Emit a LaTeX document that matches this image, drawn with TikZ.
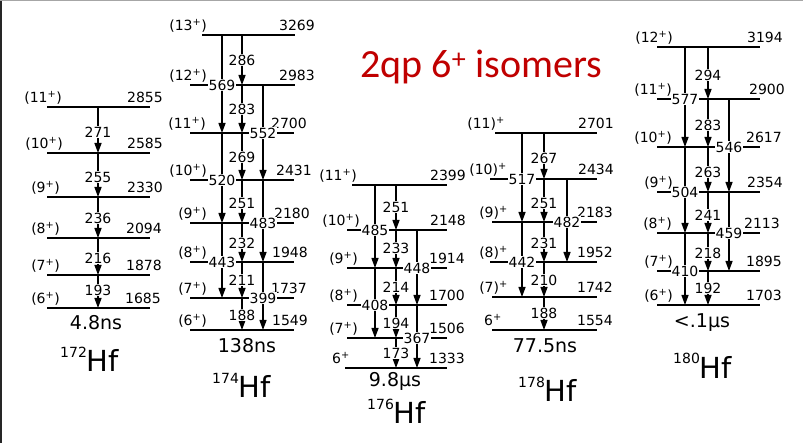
\documentclass[tikz,border=0pt]{standalone}
\usepackage{fontspec}
\setmainfont{DejaVu Sans}
\newfontfamily\titlefont{Carlito}
\usetikzlibrary{arrows.meta}
\definecolor{titlered}{RGB}{192,0,0}
\newcommand\Pl{\textsuperscript{+}}
% level: name, y, x1, x2, spin, spin-east-x, energy, energy-east-x
\newcommand\Lvl[8]{%
  \coordinate (#1) at (#3,#2);
  \coordinate (#1r) at (#4,#2);
  \draw[lvline] (#1) -- (#1r);
  \node[txt,anchor=base east] (#1s) at (#6,#2-4) {#5};
  \node[txt,anchor=base east] (#1e) at (#8,#2-4) {#7};
}
\newcommand\Tr[3]{\draw[tline] (#1 |- #2) -- (#1 |- #3);}
\newcommand\Lab[4]{\node[glab] (#1) at (#2,#3) {#4};}
\newcommand\XLab[4]{\node[glab] (#1) at (#2 |- #3) {#4};}
\newcommand\Iso[4]{\node[iso] (#1) at (#2,#3) {{\fontsize{14}{14}\selectfont\raisebox{14pt}{#4}}{\fontsize{29}{29}\selectfont Hf}};}
\begin{document}
\begin{tikzpicture}[x=1pt,y=-1pt,
  lvline/.style={line width=1.6pt},
  tline/.style={line width=1.3pt,-{Triangle[length=10pt,width=7pt]}},
  txt/.style={font=\fontsize{14}{14}\selectfont,inner sep=0pt},
  glab/.style={txt,fill=white,inner sep=1pt},
  big/.style={font=\fontsize{19}{19}\selectfont,inner sep=0pt,anchor=base},
  iso/.style={inner sep=0pt,anchor=base west}]
\useasboundingbox (0,0) rectangle (803,443);
\fill[white] (0,0) rectangle (803,443);
\draw[black!85,line width=1.5pt] (0.75,0) -- (0.75,443);
\draw[black!35,line width=1pt] (0,0.6) -- (803,0.6);

\node[anchor=base west,text=titlered,font=\titlefont\fontsize{40}{40}\selectfont,inner sep=0pt] (title) at (360,78) {2qp 6\textsuperscript{+} isomers};

% columns
\coordinate (AM) at (98,0);
\coordinate (BL) at (222,0); \coordinate (BM) at (242,0); \coordinate (BR) at (263,0);
\coordinate (CL) at (375,0); \coordinate (CM) at (396,0); \coordinate (CR) at (417,0);
\coordinate (DL) at (522,0); \coordinate (DM) at (544,0); \coordinate (DR) at (567,0);
\coordinate (EL) at (685,0); \coordinate (EM) at (708,0); \coordinate (ER) at (729,0);

% ---------- 172Hf ----------
\Lvl{A11}{107}{47}{150}{(11\Pl)}{62}{2855}{163}
\Lvl{A10}{153}{47}{150}{(10\Pl)}{63}{2585}{163}
\Lvl{A9}{197}{47}{150}{(9\Pl)}{60}{2330}{163}
\Lvl{A8}{238}{47}{150}{(8\Pl)}{60}{2094}{162}
\Lvl{A7}{275}{47}{150}{(7\Pl)}{60}{1878}{162}
\Lvl{A6}{308}{47}{150}{(6\Pl)}{60}{1685}{161}
\Tr{AM}{A11}{A10} \Tr{AM}{A10}{A9} \Tr{AM}{A9}{A8} \Tr{AM}{A8}{A7} \Tr{AM}{A7}{A6}
\Lab{A271}{98}{132}{271} \Lab{A255}{98}{177}{255} \Lab{A236}{98}{218}{236}
\Lab{A216}{98}{258}{216} \Lab{A193}{98}{290}{193}
\node[big] (Ahl) at (96,330) {4.8ns};
\Iso{Aiso}{60}{372}{172}

% ---------- 174Hf ----------
\Lvl{B13}{35}{202}{295}{(13\Pl)}{207}{3269}{315}
\Lvl{B12}{85}{190}{295}{(12\Pl)}{207}{2983}{315}
\Lvl{B11}{133}{190}{294}{(11\Pl)}{206}{2700}{307}
\Lvl{B10}{180}{190}{294}{(10\Pl)}{207}{2431}{312}
\Lvl{B9}{223}{190}{294}{(9\Pl)}{207}{2180}{310}
\Lvl{B8}{262}{190}{294}{(8\Pl)}{207}{1948}{308}
\Lvl{B7}{298}{190}{294}{(7\Pl)}{207}{1737}{307}
\Lvl{B6}{330}{190}{294}{(6\Pl)}{207}{1549}{308}
\Tr{BM}{B13}{B12} \Tr{BM}{B12}{B11} \Tr{BM}{B11}{B10} \Tr{BM}{B10}{B9}
\Tr{BM}{B9}{B8} \Tr{BM}{B8}{B7} \Tr{BM}{B7}{B6}
\Tr{BL}{B13}{B11} \Tr{BL}{B11}{B9} \Tr{BL}{B9}{B7}
\Tr{BR}{B12}{B10} \Tr{BR}{B10}{B8} \Tr{BR}{B8}{B6}
\Lab{B286}{242}{60}{286} \Lab{B283}{242}{109}{283} \Lab{B269}{242}{157}{269}
\Lab{B251}{242}{203}{251} \Lab{B232}{242}{243}{232} \Lab{B211}{242}{280}{211}
\Lab{B188}{242}{315}{188}
\XLab{B569}{BL}{B12}{569} \XLab{B520}{BL}{B10}{520} \XLab{B443}{BL}{B8}{443}
\XLab{B552}{BR}{B11}{552} \XLab{B483}{BR}{B9}{483} \XLab{B399}{BR}{B7}{399}
\node[big] (Bhl) at (247,353) {138ns};
\Iso{Biso}{212}{398}{174}

% ---------- 176Hf ----------
\Lvl{C11}{185}{352}{447}{(11\Pl)}{357}{2399}{466}
\Lvl{C10}{230}{347}{447}{(10\Pl)}{360}{2148}{466}
\Lvl{C9}{268}{347}{447}{(9\Pl)}{358}{1914}{465}
\Lvl{C8}{305}{347}{447}{(8\Pl)}{358}{1700}{465}
\Lvl{C7}{338}{347}{447}{(7\Pl)}{358}{1506}{465}
\Lvl{C6}{368}{345}{447}{6\Pl}{350}{1333}{465}
\Tr{CM}{C11}{C10} \Tr{CM}{C10}{C9} \Tr{CM}{C9}{C8} \Tr{CM}{C8}{C7} \Tr{CM}{C7}{C6}
\Tr{CL}{C11}{C9} \Tr{CL}{C9}{C7}
\Tr{CR}{C10}{C8} \Tr{CR}{C8}{C6}
\Lab{C251}{396}{207}{251} \Lab{C233}{396}{248}{233} \Lab{C214}{396}{287}{214}
\Lab{C194}{396}{323}{194} \Lab{C173}{396}{353}{173}
\XLab{C485}{CL}{C10}{485} \XLab{C408}{CL}{C8}{408}
\XLab{C448}{CR}{C9}{448} \XLab{C367}{CR}{C7}{367}
\node[big] (Chl) at (395,387) {9.8μs};
\Iso{Ciso}{367}{423}{176}

% ---------- 178Hf ----------
\Lvl{D11}{133}{495}{597}{(11)\Pl}{505}{2701}{614}
\Lvl{D10}{179}{490}{597}{(10)\Pl}{507}{2434}{614}
\Lvl{D9}{222}{492}{597}{(9)\Pl}{508}{2183}{613}
\Lvl{D8}{262}{490}{597}{(8)\Pl}{508}{1952}{613}
\Lvl{D7}{297}{492}{597}{(7)\Pl}{508}{1742}{613}
\Lvl{D6}{330}{492}{597}{6\Pl}{502}{1554}{613}
\Tr{DM}{D11}{D10} \Tr{DM}{D10}{D9} \Tr{DM}{D9}{D8} \Tr{DM}{D8}{D7} \Tr{DM}{D7}{D6}
\Tr{DL}{D11}{D9} \Tr{DL}{D9}{D7}
\Tr{DR}{D10}{D8}
\Lab{D267}{544}{158}{267} \Lab{D251}{544}{203}{251} \Lab{D231}{544}{243}{231}
\Lab{D210}{544}{280}{210} \Lab{D188}{544}{313}{188}
\XLab{D517}{DL}{D10}{517} \XLab{D442}{DL}{D8}{442}
\XLab{D482}{DR}{D9}{482}
\node[big] (Dhl) at (545,353) {77.5ns};
\Iso{Diso}{518}{402}{178}

% ---------- 180Hf ----------
\Lvl{E12}{47}{657}{760}{(12\Pl)}{673}{3194}{783}
\Lvl{E11}{99}{657}{760}{(11\Pl)}{672}{2900}{785}
\Lvl{E10}{147}{657}{760}{(10\Pl)}{672}{2617}{782}
\Lvl{E9}{192}{657}{760}{(9\Pl)}{673}{2354}{783}
\Lvl{E8}{233}{657}{760}{(8\Pl)}{672}{2113}{780}
\Lvl{E7}{271}{657}{760}{(7\Pl)}{673}{1895}{782}
\Lvl{E6}{305}{657}{760}{(6\Pl)}{673}{1703}{782}
\Tr{EM}{E12}{E11} \Tr{EM}{E11}{E10} \Tr{EM}{E10}{E9} \Tr{EM}{E9}{E8}
\Tr{EM}{E8}{E7} \Tr{EM}{E7}{E6}
\Tr{EL}{E12}{E10} \Tr{EL}{E10}{E8} \Tr{EL}{E8}{E6}
\Tr{ER}{E11}{E9} \Tr{ER}{E9}{E7}
\Lab{E294}{708}{75}{294} \Lab{E283}{708}{125}{283} \Lab{E263}{708}{172}{263}
\Lab{E241}{708}{215}{241} \Lab{E218}{708}{253}{218} \Lab{E192}{708}{288}{192}
\XLab{E577}{EL}{E11}{577} \XLab{E504}{EL}{E9}{504} \XLab{E410}{EL}{E7}{410}
\XLab{E546}{ER}{E10}{546} \XLab{E459}{ER}{E8}{459}
\node[big] (Ehl) at (702,328) {<.1μs};
\Iso{Eiso}{673}{378}{180}
\end{tikzpicture}
\end{document}
